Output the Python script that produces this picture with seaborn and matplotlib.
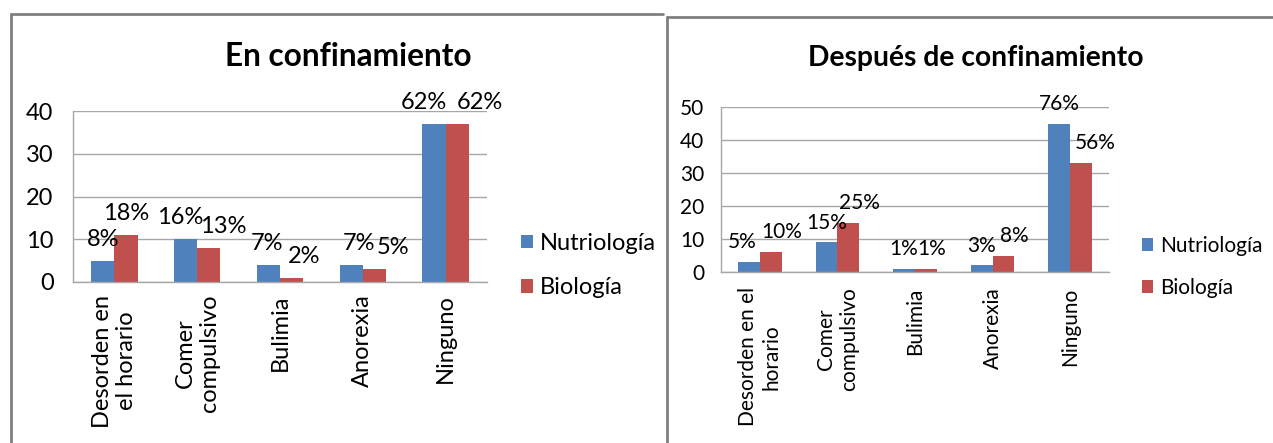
import matplotlib
matplotlib.use("Agg")
import matplotlib.pyplot as plt
import seaborn as sns
import pandas as pd
from matplotlib.lines import Line2D
from matplotlib.patches import Patch

# ---------------- data ----------------
series = ["Nutriología", "Biología"]
categories_left = ["Desorden en\nel horario", "Comer\ncompulsivo", "Bulimia", "Anorexia", "Ninguno"]
categories_right = ["Desorden en el\nhorario", "Comer\ncompulsivo", "Bulimia", "Anorexia", "Ninguno"]

en_nutri = [5, 10, 4, 4, 37]
en_bio = [11, 8, 1, 3, 37]
en_nutri_pct = ["8%", "16%", "7%", "7%", "62%"]
en_bio_pct = ["18%", "13%", "2%", "5%", "62%"]

des_nutri = [3, 9, 1, 2, 45]
des_bio = [6, 15, 1, 5, 33]
des_nutri_pct = ["5%", "15%", "1%", "3%", "76%"]
des_bio_pct = ["10%", "25%", "1%", "8%", "56%"]

left_yticks = [0, 10, 20, 30, 40]
right_yticks = [0, 10, 20, 30, 40, 50]

title_left = "En confinamiento"
title_right = "Después de confinamiento"

colors = ["#4F81BD", "#C0504D"]

# horizontal nudges (pixels) of the value labels, as placed in the reference
shift_left_nutri = [0, -5, -1, 8, -10]
shift_left_bio = [0, 14, 13, 19, 23]
shift_right_nutri = [-7, 0, 0, 0, 0]
shift_right_bio = [11, 11, 6, 11, 14]

# ---------------- style ----------------
sns.set_style("white")
plt.rcParams["font.family"] = ["Lato", "DejaVu Sans"]
plt.rcParams["text.color"] = "black"

W, H = 1273, 443
fig = plt.figure(figsize=(W / 100, H / 100), dpi=100)


def fx(px):
    return px / W


def fy(py):
    return 1 - py / H


def long_df(cats, a, b):
    rows = []
    for c, v in zip(cats, a):
        rows.append({"cat": c, "serie": series[0], "val": v})
    for c, v in zip(cats, b):
        rows.append({"cat": c, "serie": series[1], "val": v})
    return pd.DataFrame(rows)


def draw(ax, cats, a, b, pa, pb, yticks, fs, ypad, xpad, lblpad, shifts):
    df = long_df(cats, a, b)
    sns.barplot(data=df, x="cat", y="val", hue="serie", order=cats,
                hue_order=series, palette=colors, width=0.56, saturation=1,
                linewidth=0, edgecolor="none", legend=False, ax=ax, errorbar=None)
    ax.set_ylim(yticks[0], yticks[-1])
    ax.set_yticks(yticks)
    ax.set_xlabel("")
    ax.set_ylabel("")
    ax.yaxis.grid(True, color="#A6A6A6", linewidth=1)
    ax.set_axisbelow(True)
    for s in ["top", "right"]:
        ax.spines[s].set_visible(False)
    for s in ["left", "bottom"]:
        ax.spines[s].set_color("#A6A6A6")
        ax.spines[s].set_linewidth(1)
    ax.tick_params(axis="y", length=0, labelsize=fs, pad=ypad, labelcolor="black")
    ax.tick_params(axis="x", length=0, labelsize=fs, pad=xpad, labelcolor="black")
    for t in ax.get_xticklabels():
        t.set_rotation(90)
        t.set_ha("center")
        t.set_va("top")
        t.set_multialignment("center")
    for cont, labs, sh in zip(ax.containers, [pa, pb], shifts):
        anns = ax.bar_label(cont, labels=labs, padding=lblpad, fontsize=fs, color="black")
        for an, dx in zip(anns, sh):
            an.xyann = (dx * 0.72, lblpad)


# left chart
axL = fig.add_axes([fx(73), fy(282), fx(487) - fx(73), fy(111) - fy(282)])
draw(axL, categories_left, en_nutri, en_bio, en_nutri_pct, en_bio_pct,
     left_yticks, 17, 14, 9, 8, (shift_left_nutri, shift_left_bio))

# right chart
axR = fig.add_axes([fx(721), fy(272), fx(1109) - fx(721), fy(107) - fy(272)])
draw(axR, categories_right, des_nutri, des_bio, des_nutri_pct, des_bio_pct,
     right_yticks, 15, 12, 11, 7, (shift_right_nutri, shift_right_bio))

# titles
fig.text(fx(348.5), fy(57), title_left, ha="center", va="center",
         fontsize=22.8, fontweight="bold")
fig.text(fx(976), fy(58), title_right, ha="center", va="center",
         fontsize=20.3, fontweight="bold")

# legends
handles = [Patch(facecolor=c, edgecolor="none") for c in colors]
fig.legend(handles, series, loc="center left", bbox_to_anchor=(fx(521), fy(265.5)),
           frameon=False, fontsize=17, handlelength=0.5, handleheight=0.5,
           handletextpad=0.3, labelspacing=1.0, borderaxespad=0, borderpad=0)
fig.legend(handles, series, loc="center left", bbox_to_anchor=(fx(1142), fy(267)),
           frameon=False, fontsize=15, handlelength=0.55, handleheight=0.55,
           handletextpad=0.3, labelspacing=1.05, borderaxespad=0, borderpad=0)

# panel borders
bc = "#808080"
fig.add_artist(Line2D([fx(10.5), fx(10.5)], [fy(14), 0], transform=fig.transFigure, color=bc, lw=2))
fig.add_artist(Line2D([fx(10.5), fx(663)], [fy(14), fy(14)], transform=fig.transFigure, color=bc, lw=2))
fig.add_artist(Line2D([fx(666.5), fx(666.5)], [fy(16.5), 0], transform=fig.transFigure, color=bc, lw=2))
fig.add_artist(Line2D([fx(666.5), 1], [fy(16.5), fy(16.5)], transform=fig.transFigure, color=bc, lw=2))

fig.savefig("out.png", dpi=100)
